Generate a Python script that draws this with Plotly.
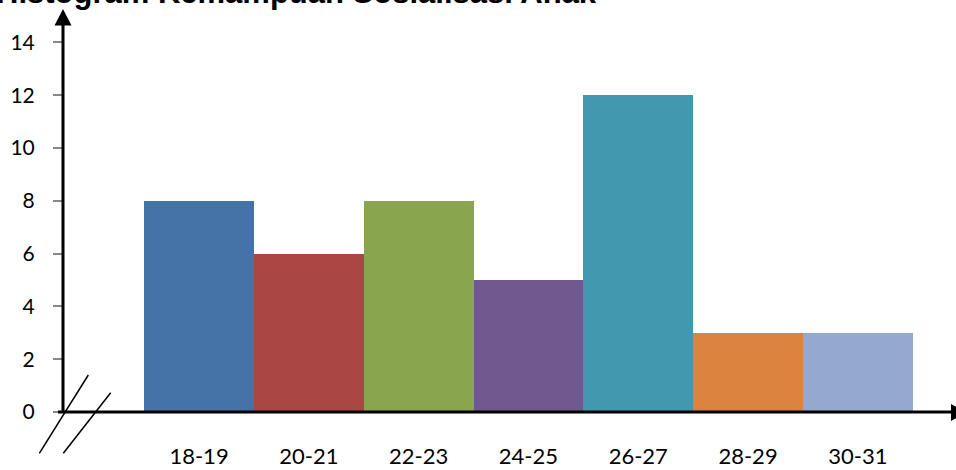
import plotly.graph_objects as go

categories = ["18-19", "20-21", "22-23", "24-25", "26-27", "28-29", "30-31"]
values = [8, 6, 8, 5, 12, 3, 3]
colors = ["#4572A7", "#AA4643", "#89A54E", "#71588F", "#4198AF", "#DB843D", "#93A9CF"]
y_ticks = [0, 2, 4, 6, 8, 10, 12, 14]
title_text = "Histogram Kemampuan Sosialisasi Anak"

W, H = 956, 470
ML, MR, MT, MB = 63, 0, 10, 58
PW, PH = W - ML - MR, H - MT - MB

def px(x):
    return (x - ML) / PW

def py(y):
    return (H - MB - y) / PH

fig = go.Figure(go.Bar(
    x=categories, y=values, marker=dict(color=colors, line=dict(width=0)),
    width=1.0,
))

line_col = "black"
shapes = [
    dict(type="line", xref="paper", yref="paper", x0=0, x1=0, y0=0, y1=py(24),
         line=dict(color=line_col, width=3)),
    dict(type="line", xref="paper", yref="paper", x0=px(58), x1=px(952), y0=0, y1=0,
         line=dict(color=line_col, width=3)),
    dict(type="path", xref="paper", yref="paper",
         path=f"M {px(54.5)} {py(25.5)} L {px(71.5)} {py(25.5)} L {px(63)} {py(9)} Z",
         fillcolor=line_col, line=dict(width=0)),
    dict(type="path", xref="paper", yref="paper",
         path=f"M {px(951)} {py(404)} L {px(951)} {py(421)} L {px(967)} {py(412.5)} Z",
         fillcolor=line_col, line=dict(width=0)),
    dict(type="line", xref="paper", yref="paper", x0=px(39.3), y0=py(453.3), x1=px(88.3), y1=py(375),
         line=dict(color=line_col, width=1.5)),
    dict(type="line", xref="paper", yref="paper", x0=px(63.3), y0=py(453.3), x1=px(110.7), y1=py(392.7),
         line=dict(color=line_col, width=1.5)),
]

tick_font = dict(family="Lato, Carlito, sans-serif", size=22, color="black")

fig.update_layout(
    width=W, height=H,
    margin=dict(l=ML, r=MR, t=MT, b=MB, pad=0),
    paper_bgcolor="white", plot_bgcolor="white",
    showlegend=False, bargap=0,
    shapes=shapes,
    xaxis=dict(
        type="category", range=[-1.239, -1.239 + PW / 109.8],
        showline=False, showgrid=False, zeroline=False, ticks="",
        tickfont=tick_font, ticklabelstandoff=29,
    ),
    yaxis=dict(
        range=[0, PH / 26.4], tickvals=y_ticks, ticktext=[str(v) for v in y_ticks],
        showline=False, showgrid=False, zeroline=False,
        ticks="outside", ticklen=9, tickwidth=1.5, tickcolor="#888888",
        tickfont=dict(family="Lato, Carlito, sans-serif", size=21, color="black"),
        ticklabelstandoff=14,
    ),
    annotations=[dict(
        text="<b>" + title_text + "</b>", xref="paper", yref="paper",
        x=px(599), y=py(7), xanchor="right", yanchor="bottom", yshift=-5,
        showarrow=False, font=dict(family="Liberation Sans, Arial, sans-serif", size=31, color="black"),
    )],
)

fig.write_html(
    "out.html",
    config={"displayModeBar": False},
    post_script="document.body.style.margin='0';document.body.style.overflow='hidden';",
)
